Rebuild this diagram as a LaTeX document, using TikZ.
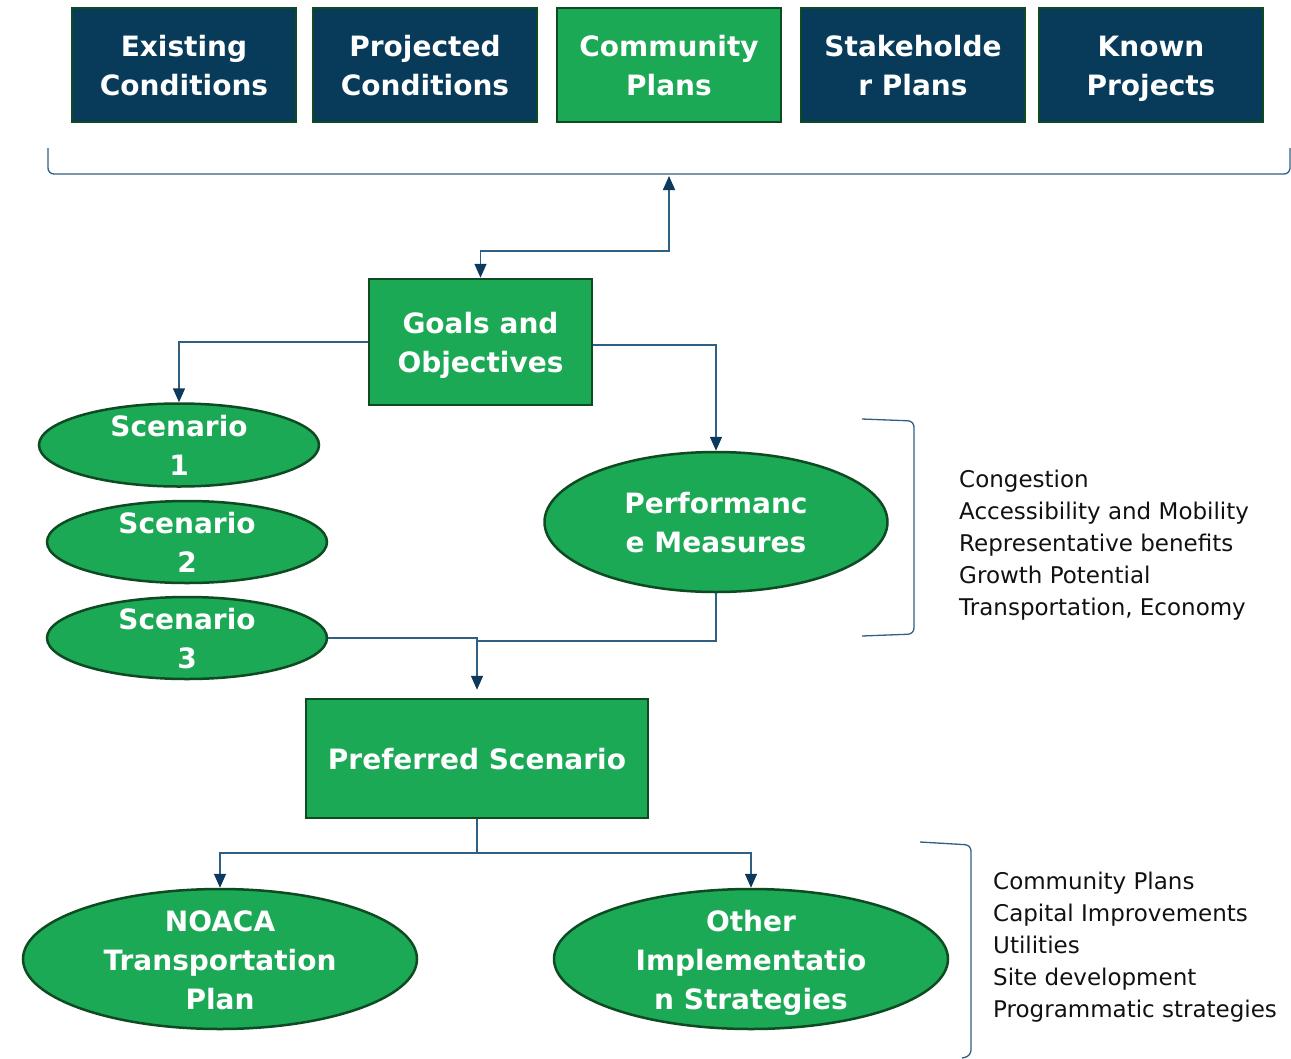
\documentclass[tikz,border=0pt]{standalone}
\usepackage{fontspec}
\setmainfont{DejaVu Sans}
\usetikzlibrary{shapes.geometric,arrows.meta}
\definecolor{navy}{HTML}{083A5A}
\definecolor{grn}{HTML}{1BA955}
\definecolor{dgrn}{HTML}{0E4A22}
\definecolor{lnc}{HTML}{2F5F82}
\definecolor{arr}{HTML}{0B3A5E}
\definecolor{txt}{HTML}{111111}
\begin{document}
\begin{tikzpicture}[x=1pt,y=-1pt,
  etxt/.style={font=\bfseries\fontsize{28}{39}\selectfont, text=white, align=center, inner sep=0pt, yshift=-3.5pt},
  topbox/.style={rectangle, draw=dgrn, line width=1.5pt, fill=navy, minimum width=224pt, minimum height=114pt, inner sep=0pt},
  greenbox/.style={rectangle, draw=dgrn, line width=2.5pt, fill=grn, inner sep=0pt},
  greenell/.style={ellipse, draw=dgrn, line width=2.5pt, fill=grn, inner sep=0pt},
  conn/.style={draw=lnc, line width=1.5pt},
  tipend/.style={-{Triangle[length=14pt,width=12pt,color=arr]}},
  tipboth/.style={{Triangle[length=14pt,width=12pt,color=arr]}-{Triangle[length=14pt,width=12pt,color=arr]}},
  brk/.style={draw=lnc, line width=1.3pt, rounded corners=6pt},
  listtxt/.style={font=\fontsize{23}{32}\selectfont, text=txt, align=left, inner sep=0pt, anchor=west}
  ]
\useasboundingbox (0,0) rectangle (1291,1058);

% top row
\node[topbox, label={[etxt]center:\strut Existing\\Conditions\strut}] (exist) at (184,65) {};
\node[topbox, label={[etxt]center:\strut Projected\\Conditions\strut}] (proj) at (425,65) {};
\node[topbox, fill=grn, line width=2.5pt, label={[etxt]center:\strut Community\\Plans\strut}] (comm) at (669,65) {};
\node[topbox, label={[etxt]center:\strut Stakeholde\\r Plans\strut}] (stake) at (913,65) {};
\node[topbox, label={[etxt]center:\strut Known\\Projects\strut}] (known) at (1151,65) {};

% top bracket
\draw[brk] (48,148) -- (48,174) -- (1290,174) -- (1290,148);
\coordinate (topbr) at (669,176);

% goals
\node[greenbox, minimum width=223pt, minimum height=126pt, label={[etxt]center:\strut Goals and\\Objectives\strut}] (goals) at (480.5,342) {};

% scenarios
\node[greenell, minimum width=280pt, minimum height=83pt, label={[etxt]center:\strut Scenario\\1\strut}] (s1) at (179,445) {};
\node[greenell, minimum width=280pt, minimum height=82pt, label={[etxt]center:\strut Scenario\\2\strut}] (s2) at (187,542) {};
\node[greenell, minimum width=280pt, minimum height=82pt, label={[etxt]center:\strut Scenario\\3\strut}] (s3) at (187,638) {};

% performance
\node[greenell, minimum width=343pt, minimum height=140pt, label={[etxt]center:\strut Performanc\\e Measures\strut}] (perf) at (716,522) {};

% preferred
\node[greenbox, minimum width=342pt, minimum height=119pt, label={[etxt]center:\strut Preferred Scenario}] (pref) at (477,758.5) {};

% outcomes
\node[greenell, minimum width=394pt, minimum height=140pt, label={[etxt]center:\strut NOACA\\Transportation\\Plan\strut}] (noaca) at (220,959) {};
\node[greenell, minimum width=394pt, minimum height=140pt, label={[etxt]center:\strut Other\\Implementatio\\n Strategies\strut}] (other) at (751,959) {};

% right brackets and lists
\draw[brk] (862,419) -- (914,421) -- (914,634) -- (862,636);
\node[listtxt] (list1) at (959,545) {Congestion\\Accessibility and Mobility\\Representative benefits\\Growth Potential\\Transportation, Economy};
\draw[brk] (920,842) -- (971,845) -- (971,1056) -- (962,1058);
\node[listtxt] (list2) at (993,947) {Community Plans\\Capital Improvements\\Utilities\\Site development\\Programmatic strategies};

% connectors
\draw[conn, tipboth] (topbr) -- (669,251) -| (goals.north);
\draw[conn, tipend] (goals.west) -| (s1.north);
\draw[conn, tipend] (goals.east |- 0,345) -| (perf.north);
\draw[conn, tipend, shorten >=8pt] (s3.east) -| (pref.north);
\draw[conn] (perf.south) |- (pref.north |- 0,641);
\draw[conn] (pref.south) -- (pref.south |- 0,853);
\draw[conn, tipend] (pref.south |- 0,853) -| (noaca.north);
\draw[conn, tipend] (pref.south |- 0,853) -| (other.north);
\end{tikzpicture}
\end{document}
